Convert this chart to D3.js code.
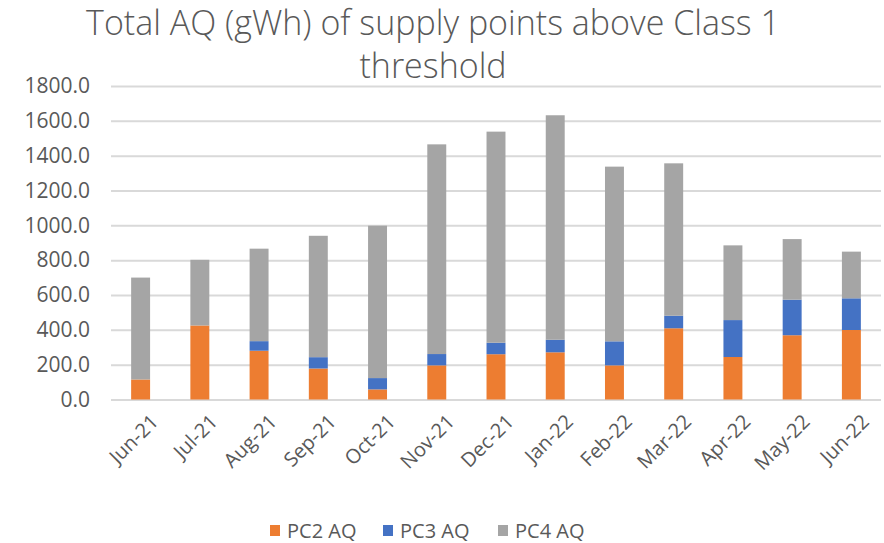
<!DOCTYPE html>
<html>
<head>
<meta charset="utf-8">
<script src="https://cdn.jsdelivr.net/npm/d3@7"></script>
<style>
  html, body { margin: 0; padding: 0; background: #fff; }
  svg { display: block; font-family: "Open Sans", "Noto Sans", sans-serif; }
</style>
</head>
<body>
<svg id="chart" width="884" height="543"></svg>
<script>
// Monthly AQ totals (gWh) split by product class
const months = ["Jun-21", "Jul-21", "Aug-21", "Sep-21", "Oct-21", "Nov-21", "Dec-21",
                "Jan-22", "Feb-22", "Mar-22", "Apr-22", "May-22", "Jun-22"];
const pc2 = [115, 425, 280, 178, 58, 196, 260, 271, 196, 409, 244, 369, 399];
const pc3 = [0, 0, 55, 65, 65, 65, 66, 72, 138, 72, 212, 204, 182];
const pc4 = [585, 377, 531, 697, 875, 1204, 1212, 1289, 1003, 875, 429, 348, 268];
const seriesNames = ["PC2 AQ", "PC3 AQ", "PC4 AQ"];
const seriesColors = ["#ED7D31", "#4472C4", "#A5A5A5"];
const yTicks = [0, 200, 400, 600, 800, 1000, 1200, 1400, 1600, 1800];
const titleLines = ["Total AQ (gWh) of supply points above Class 1", "threshold"];

const svg = d3.select("#chart");
const margin = { left: 111, right: 3, top: 86, bottom: 144 };
const W = 884, H = 543;
const font = "'Open Sans', sans-serif";
const textColor = "#595959";

const rows = months.map((m, i) => ({ month: m, "PC2 AQ": pc2[i], "PC3 AQ": pc3[i], "PC4 AQ": pc4[i] }));
const stacked = d3.stack().keys(seriesNames)(rows);

const x = d3.scaleBand().domain(months)
  .range([margin.left, W - margin.right]).paddingInner(0.68).paddingOuter(0.34);
const y = d3.scaleLinear().domain([0, 1800]).range([H - margin.bottom + 0.5, margin.top]);
const color = d3.scaleOrdinal().domain(seriesNames).range(seriesColors);

// Title (two lines)
svg.append("g").selectAll("text").data(titleLines).join("text")
  .attr("x", 433).attr("y", (d, i) => 35 + i * 43)
  .attr("text-anchor", "middle")
  .attr("font-size", 34).attr("font-weight", 300).attr("fill", textColor)
  .attr("font-family", font)
  .text(d => d);

// Gridlines and y labels
const yAxis = d3.axisLeft(y).tickValues(yTicks).tickFormat(d3.format(".1f"))
  .tickSize(-(W - margin.right - margin.left)).tickPadding(21);
const gy = svg.append("g").attr("transform", `translate(${margin.left},0)`).call(yAxis);
gy.select(".domain").remove();
gy.selectAll(".tick line").attr("stroke", "#D9D9D9").attr("stroke-width", 2);
gy.selectAll(".tick text").attr("fill", textColor).attr("font-size", 21)
  .attr("font-family", font);

// Stacked bars
svg.append("g").selectAll("g").data(stacked).join("g")
  .attr("fill", d => color(d.key))
  .selectAll("rect").data(d => d).join("rect")
  .attr("x", d => x(d.data.month))
  .attr("width", x.bandwidth())
  .attr("y", d => y(d[1]))
  .attr("height", d => Math.max(0, y(d[0]) - y(d[1])));

// X axis labels, rotated
const xAxis = d3.axisBottom(x).tickSize(0).tickPadding(0);
const gx = svg.append("g").attr("transform", `translate(0,${H - margin.bottom})`).call(xAxis);
gx.select(".domain").remove();
gx.selectAll(".tick text")
  .attr("fill", textColor).attr("font-size", 20)
  .attr("font-family", font)
  .attr("text-anchor", "end")
  .attr("dy", null)
  .attr("transform", "translate(19,24) rotate(-45)");

// Legend
const legend = svg.append("g").attr("transform", "translate(270,538)");
const itemX = [0, 113, 228];
const items = legend.selectAll("g").data(seriesNames).join("g")
  .attr("transform", (d, i) => `translate(${itemX[i]},0)`);
items.append("rect").attr("x", 0).attr("y", -13).attr("width", 10).attr("height", 11)
  .attr("fill", d => color(d));
items.append("text").attr("x", 17).attr("y", 0)
  .attr("font-size", 20).attr("fill", textColor)
  .attr("font-family", font)
  .text(d => d);
</script>
</body>
</html>
